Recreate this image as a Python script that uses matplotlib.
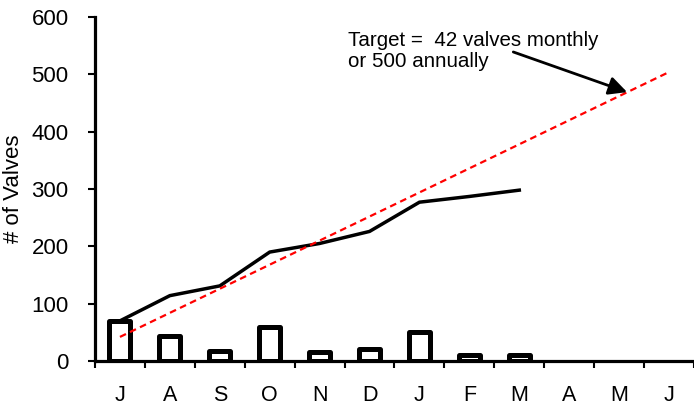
import matplotlib
matplotlib.use("Agg")
import matplotlib.pyplot as plt
import numpy as np

months = ["J", "A", "S", "O", "N", "D", "J", "F", "M", "A", "M", "J"]
monthly = [70, 44, 17, 59, 15, 21, 51, 10, 11]
cumulative = [70, 114, 131, 190, 205, 226, 277, 287, 298]
target = [42, 84, 126, 168, 210, 252, 294, 336, 378, 420, 462, 504]
yticks = [0, 100, 200, 300, 400, 500, 600]

plt.rcParams['font.family'] = ['Liberation Sans', 'DejaVu Sans']

W, H = 694, 408
fig = plt.figure(figsize=(W / 100, H / 100), dpi=100)
ax = fig.add_axes([95 / W, 47 / H, 599 / W, 344 / H])

x_all = np.arange(len(months))
ax.bar(x_all[:len(monthly)], monthly, width=0.42, facecolor="white",
       edgecolor="black", linewidth=3.6, joinstyle="round", zorder=3)
ax.plot(x_all[:len(cumulative)], cumulative, color="black", lw=2.5,
        solid_joinstyle="miter", zorder=4)
ax.plot(x_all, target, color="#ff0000", lw=1.6, dashes=(3, 2), zorder=5)

ax.set_xlim(-0.5, 11.48)
ax.set_ylim(0, 600)
ax.set_yticks(yticks)
ax.set_yticklabels([str(v) for v in yticks], fontsize=16)
ax.set_xticks(x_all)
ax.set_xticklabels(months, fontsize=15.5)
ax.set_xticks(np.arange(-0.5, 12, 1), minor=True)
ax.tick_params(axis="x", which="major", length=0, pad=17.5)
ax.tick_params(axis="x", which="minor", length=5, width=1.5, direction="out")
ax.tick_params(axis="y", length=5, width=1.5, direction="out", pad=14)

for s in ["top", "right"]:
    ax.spines[s].set_visible(False)
ax.spines["left"].set_linewidth(2.3)
ax.spines["bottom"].set_linewidth(2.3)
ax.spines["bottom"].set_capstyle("butt")

ax.set_ylabel("# of Valves", fontsize=16)
ax.yaxis.set_label_coords(-0.1185, 0.5)

ax.annotate("", xy=(10.16, 469), xytext=(7.88, 539),
            arrowprops=dict(arrowstyle="-|>,head_length=1.1,head_width=0.55",
                            color="black", lw=2.0, shrinkA=0, shrinkB=0),
            zorder=6)
ax.text(4.56, 541, "Target =  42 valves monthly\nor 500 annually",
        fontsize=14.8, ha="left", va="center", linespacing=1.1)

fig.savefig("out.png", dpi=100)
